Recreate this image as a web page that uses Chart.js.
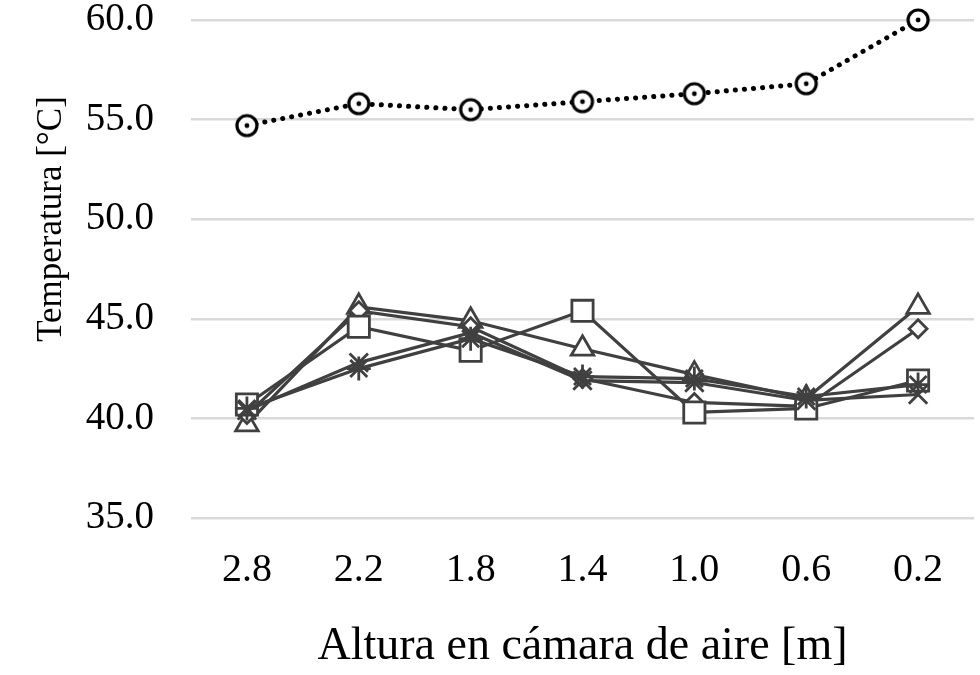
<!DOCTYPE html>
<html>
<head>
<meta charset="utf-8">
<script src="https://cdn.jsdelivr.net/npm/chart.js@4"></script>
<style>
  html, body { margin: 0; padding: 0; background: #ffffff; }
  #wrap { width: 980px; height: 675px; }
</style>
</head>
<body>
<div id="wrap"><canvas id="tempChart" width="980" height="675"></canvas></div>
<script>
// ============================================================
// 数据
// ============================================================

const alturas = ['2.8', '2.2', '1.8', '1.4', '1.0', '0.6', '0.2'];

const serieCirculo = [54.7, 55.8, 55.5, 55.9, 56.3, 56.8, 60.0];
const serieTriangulo = [39.7, 45.6, 44.9, 43.5, 42.2, 41.0, 45.6];
const serieRombo = [40.2, 45.4, 44.6, 42.0, 40.8, 40.6, 44.5];
const serieCuadrado = [40.7, 44.6, 43.4, 45.4, 40.3, 40.5, 41.9];
const serieEquis = [40.4, 42.8, 44.3, 41.9, 41.8, 40.9, 41.2];
const serieEstrella = [40.5, 42.5, 44.0, 42.1, 42.0, 41.1, 41.7];

const yTicks = [35, 40, 45, 50, 55, 60];

const tituloX = 'Altura en cámara de aire [m]';
const tituloY = 'Temperatura [°C]';

// ============================================================
// 样式
// ============================================================

const GRIS = '#404040';
const FUENTE = "'Liberation Serif', 'Times New Roman', serif";

// 带中心点的圆形标记
function circleDotMarker() {
  const c = document.createElement('canvas');
  c.width = 28;
  c.height = 28;
  const g = c.getContext('2d');
  g.fillStyle = '#ffffff';
  g.strokeStyle = '#000000';
  g.lineWidth = 3.2;
  g.beginPath();
  g.arc(14, 14, 10, 0, Math.PI * 2);
  g.fill();
  g.stroke();
  g.fillStyle = '#000000';
  g.beginPath();
  g.arc(14, 14, 2.4, 0, Math.PI * 2);
  g.fill();
  return c;
}

function lowSeries(data, style, radius) {
  return {
    data: data,
    borderColor: GRIS,
    backgroundColor: '#ffffff',
    borderWidth: 3.2,
    pointStyle: style,
    pointRadius: radius,
    pointBorderWidth: 2.8,
    pointBorderColor: GRIS,
    pointBackgroundColor: '#ffffff',
    tension: 0,
    clip: false
  };
}

// 纵轴标题（位置与原图一致，略高于绘图区中心）
const yTitlePlugin = {
  id: 'yTitle',
  afterDraw(chart) {
    const c = chart.ctx;
    c.save();
    c.translate(52, 219);
    c.rotate(-Math.PI / 2);
    c.fillStyle = '#000000';
    c.font = `35px ${FUENTE}`;
    c.textAlign = 'center';
    c.textBaseline = 'middle';
    c.fillText(tituloY, 0, 0);
    c.restore();
  }
};

// ============================================================
// 图表
// ============================================================

const ctx = document.getElementById('tempChart').getContext('2d');

new Chart(ctx, {
  type: 'line',
  data: {
    labels: alturas,
    datasets: [
      lowSeries(serieEstrella, 'star', 12),
      lowSeries(serieEquis, 'crossRot', 13),
      lowSeries(serieCuadrado, 'rect', 15),
      lowSeries(serieRombo, 'rectRot', 9),
      lowSeries(serieTriangulo, 'triangle', 13),
      {
        data: serieCirculo,
        borderColor: '#000000',
        borderWidth: 5,
        borderDash: [0.1, 9],
        borderCapStyle: 'round',
        pointStyle: circleDotMarker(),
        pointRadius: 13,
        tension: 0,
        clip: false
      }
    ]
  },
  plugins: [yTitlePlugin],
  options: {
    responsive: false,
    animation: false,
    layout: {
      autoPadding: false,
      padding: { top: 20, right: 6, bottom: 0, left: 0 }
    },
    plugins: {
      legend: { display: false },
      tooltip: { enabled: false }
    },
    scales: {
      x: {
        offset: true,
        afterFit: scale => {
          scale.height = 157;
          scale.paddingLeft = 0;
          scale.paddingRight = 0;
        },
        grid: { display: false },
        border: { display: false },
        ticks: {
          color: '#000000',
          padding: 20,
          maxRotation: 0,
          font: { family: FUENTE, size: 40 }
        },
        title: {
          display: true,
          text: tituloX,
          color: '#000000',
          padding: { top: 0, bottom: 0 },
          font: { family: FUENTE, size: 46 }
        }
      },
      y: {
        min: 35,
        max: 60,
        afterFit: scale => {
          scale.width = 191;
          scale.paddingTop = 0;
          scale.paddingBottom = 0;
        },
        afterBuildTicks: scale => {
          scale.ticks = yTicks.map(v => ({ value: v }));
        },
        grid: {
          color: '#d9d9d9',
          lineWidth: 2.5,
          drawTicks: false
        },
        border: { display: false },
        ticks: {
          color: '#000000',
          padding: 37,
          font: { family: FUENTE, size: 39 },
          callback: v => v.toFixed(1)
        }
      }
    }
  }
});
</script>
</body>
</html>
